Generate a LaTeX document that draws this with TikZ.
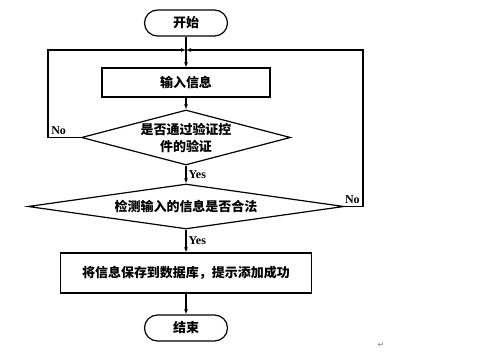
\documentclass[tikz,border=0pt]{standalone}
\usepackage{fontspec}
\newfontfamily\cjk{Noto Sans CJK SC}
\newfontfamily\latin{Liberation Serif}
\newfontfamily\dejavu{DejaVu Sans}
\usepackage{tikz}
\usetikzlibrary{arrows.meta, positioning, shapes.geometric}

\begin{document}
\begin{tikzpicture}[x=1pt, y=-1pt,
				line/.style={draw, black, line width=1.2pt},
				arr/.style={line, -{Latex[length=5pt, width=4pt]}},
				term/.style={line, rounded corners=13pt, minimum width=83pt,
					minimum height=26pt, font=\cjk\bfseries\fontsize{13}{15}\selectfont},
				proc/.style={line, rectangle, minimum height=29pt,
					font=\cjk\bfseries\fontsize{13}{15}\selectfont},
				decision/.style={line, diamond, inner sep=0pt,
					align=center, font=\cjk\bfseries\fontsize{13}{17}\selectfont},
				lab/.style={font=\latin\bfseries\fontsize{12}{14}\selectfont, inner sep=2pt}]
				\useasboundingbox (0,0) rectangle (499,352);
				%--- nodes ---
				\node[term] (start) at (186,23) {开始};
				\coordinate (join) at (186,50);
				\coordinate (lft) at (48,50);
				\coordinate (rgt) at (363,50);
				\node[proc, minimum width=168pt] (input) at (186,82.5) {输入信息};
				\node[decision, aspect=3.8, minimum width=209pt, minimum height=55pt]
				(check) at (186,137.5) {是否通过验证控\\件的验证};
				\node[decision, aspect=7, minimum width=316pt, minimum height=45pt]
				(valid) at (186,206.5) {检测输入的信息是否合法};
				\node[proc, minimum width=251pt, minimum height=40pt]
				(save) at (186,273) {将信息保存到数据库，提示添加成功};
				\node[term] (stop) at (186,328) {结束};
				\node[font=\dejavu\fontsize{8}{9}\selectfont, gray] (mark) at (381,345) {↵};
				%--- connectors ---
				\draw[arr] (start) -- (input);
				\draw[arr] (input) -- (check);
				\draw[arr] (check) -- node[lab, right]{Yes} (valid);
				\draw[arr] (valid) -- node[lab, right]{Yes} (save);
				\draw[arr] (save) -- (stop);
				% loops back to the input
				\draw[arr] (check.west) -| node[lab, pos=0.5, above right=1pt]{No} (lft) -- (join);
				\draw[arr] (valid.east) -| node[lab, pos=0.5, above left=1pt]{No} (rgt) -- (join);
			\end{tikzpicture}
\end{document}
